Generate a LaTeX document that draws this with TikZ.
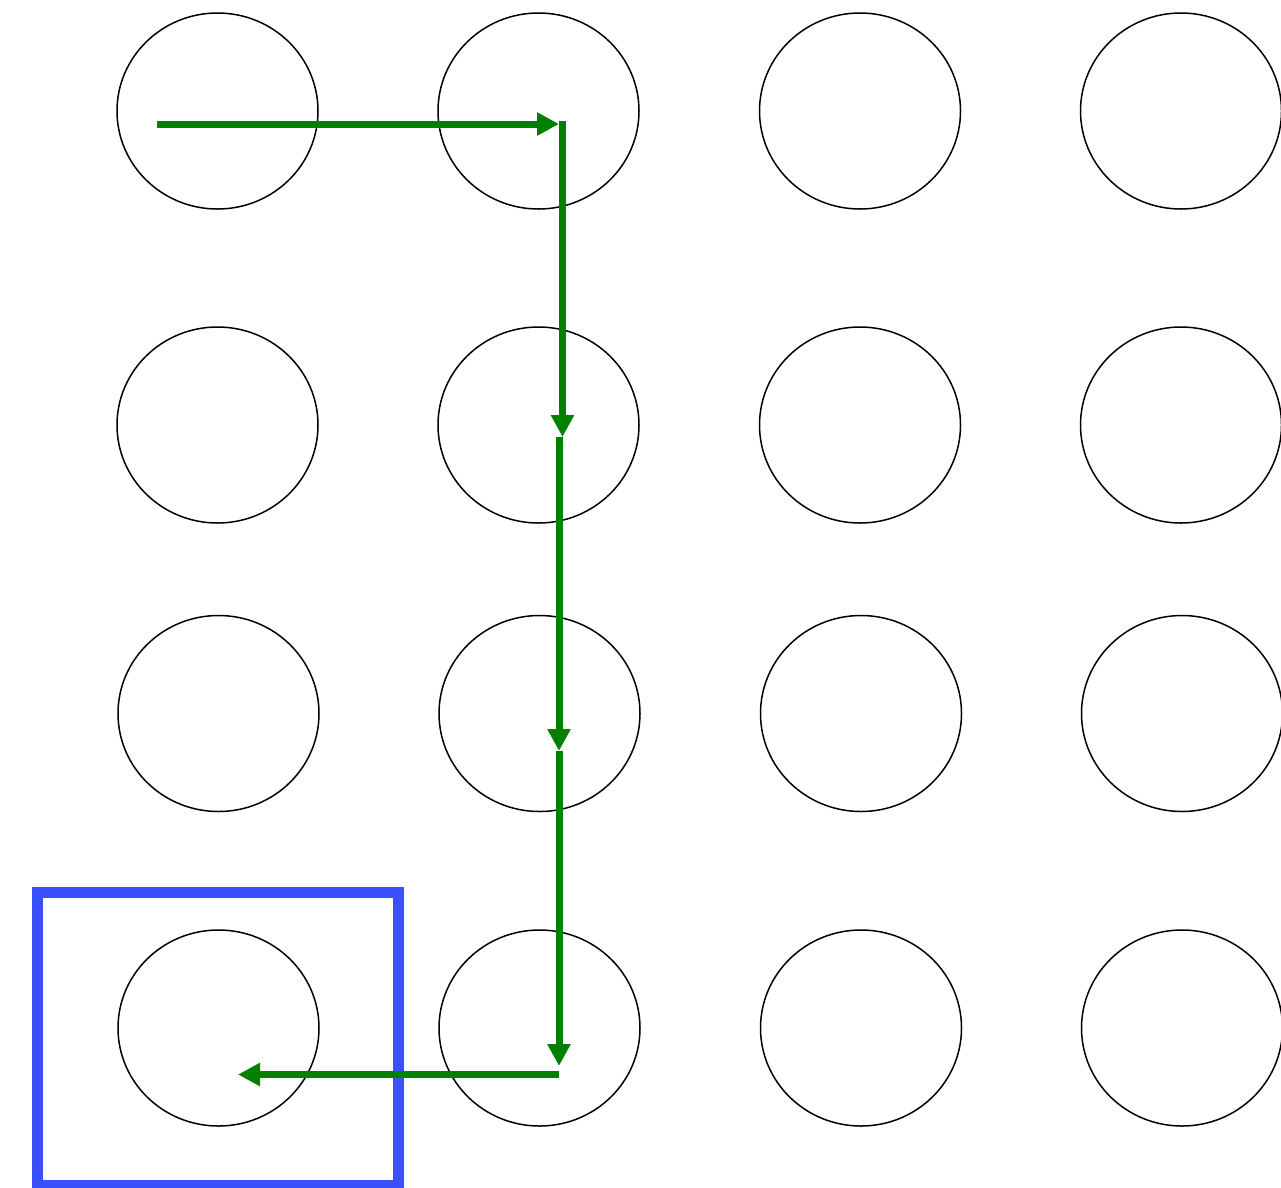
\documentclass[tikz,border=0pt]{standalone}
\usetikzlibrary{shapes.geometric,arrows.meta}
\definecolor{pathgreen}{RGB}{0,128,0}
\definecolor{boxblue}{RGB}{58,80,255}
\tikzset{
  cell/.style={ellipse,draw=black,line width=1.5pt,minimum width=201pt,minimum height=196pt,inner sep=0pt},
  move/.style={draw=pathgreen,line width=7pt,-{Triangle[length=22pt,width=22pt]}},
  goal/.style={draw=boxblue,line width=11pt}
}
\begin{document}
\begin{tikzpicture}[x=1pt,y=-1pt]
\useasboundingbox (0,0) rectangle (1281,1187);
% grid of cells
\foreach \c/\x in {1/217.5,2/538.5,3/860,4/1181}{
  \node[cell] (c1\c) at (\x,111) {};
  \node[cell] (c2\c) at (\x,425) {};
  \node[cell] (c3\c) at (\x+1,713.5) {};
  \node[cell] (c4\c) at (\x+1,1028) {};
}
% goal box
\node[goal,draw,minimum width=361pt,minimum height=293pt,inner sep=0pt] (goalbox) at (217.5,1038.5) {};
% path coordinates
\coordinate (s0) at (157,124);
\coordinate (t0) at (559,124);
\coordinate (s1) at (562.5,121);
\coordinate (t1) at (562.5,437);
\coordinate (s2) at (559,437);
\coordinate (t2) at (559,751);
\coordinate (s3) at (559,751);
\coordinate (t3) at (559,1066);
\coordinate (s4) at (559,1074.5);
\coordinate (t4) at (238,1074.5);
\draw[move] (s0) -- (t0);
\draw[move] (s1) -- (t1);
\draw[move] (s2) -- (t2);
\draw[move] (s3) -- (t3);
\draw[move] (s4) -- (t4);
\end{tikzpicture}
\end{document}
